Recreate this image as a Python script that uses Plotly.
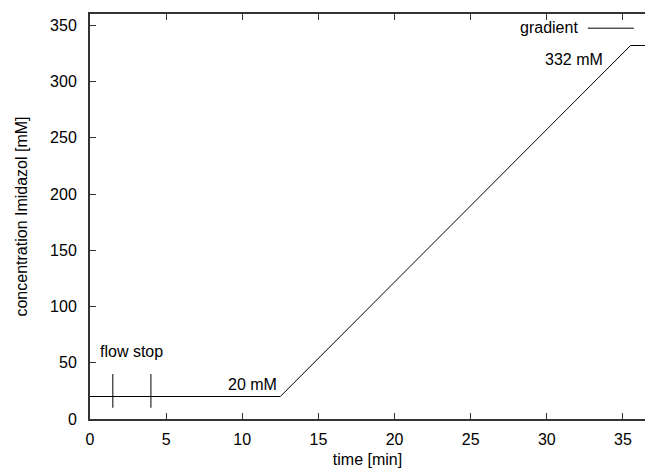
import plotly.graph_objects as go

# gradient profile
time_min = [0, 12.5, 35.5, 36.5]
imidazol_mM = [20, 20, 332, 332]

# flow stop markers
flow_stop_times = [1.5, 4.0]
flow_stop_low = 10
flow_stop_high = 40

x_ticks = [0, 5, 10, 15, 20, 25, 30, 35]
y_ticks = [0, 50, 100, 150, 200, 250, 300, 350]

FONT = "Liberation Sans, Arial, Helvetica, sans-serif"
FS = 16

fig = go.Figure()
fig.add_trace(go.Scatter(x=time_min, y=imidazol_mM, mode="lines",
                         line=dict(color="black", width=1), name="gradient",
                         showlegend=False))

fx, fy = [], []
for t in flow_stop_times:
    fx += [t, t, None]
    fy += [flow_stop_low, flow_stop_high, None]
fig.add_trace(go.Scatter(x=fx, y=fy, mode="lines",
                         line=dict(color="black", width=1), showlegend=False))

fig.add_annotation(x=0.55, y=60, text="flow stop", showarrow=False,
                   xanchor="left", yanchor="middle", font=dict(size=FS, color="black"))
fig.add_annotation(x=12.4, y=31, text="20 mM", showarrow=False,
                   xanchor="right", yanchor="middle", font=dict(size=FS, color="black"))
fig.add_annotation(x=33.8, y=320, text="332 mM", showarrow=False,
                   xanchor="right", yanchor="middle", font=dict(size=FS, color="black"))

# legend
fig.add_annotation(xref="paper", yref="paper", x=0.883, y=0.967, text="gradient",
                   showarrow=False, xanchor="right", yanchor="middle",
                   font=dict(size=FS, color="black"))
fig.add_shape(type="line", xref="paper", yref="paper", x0=0.897, x1=0.98,
              y0=0.965, y1=0.965, line=dict(color="black", width=1))

axis_common = dict(showgrid=False, zeroline=False, showline=True, linecolor="#333333",
                   linewidth=2, ticks="inside", ticklen=6, tickcolor="#333333",
                   tickwidth=1, tickfont=dict(size=FS, color="black"))

fig.update_xaxes(range=[0, 36.45], tickvals=x_ticks, mirror="ticks", ticklabelstandoff=5,
                 title=dict(text="time [min]", font=dict(size=FS, color="black"), standoff=7),
                 **axis_common)
fig.update_yaxes(range=[0, 360], tickvals=y_ticks, mirror=False, ticklabelstandoff=8,
                 title=dict(text="concentration Imidazol [mM]", font=dict(size=FS, color="black"),
                            standoff=18),
                 **axis_common)

fig.update_layout(width=645, height=468, margin=dict(l=90, r=0, t=14, b=49),
                  plot_bgcolor="white", paper_bgcolor="white",
                  font=dict(family=FONT, size=FS, color="black"))

fig.write_html("out.html")
